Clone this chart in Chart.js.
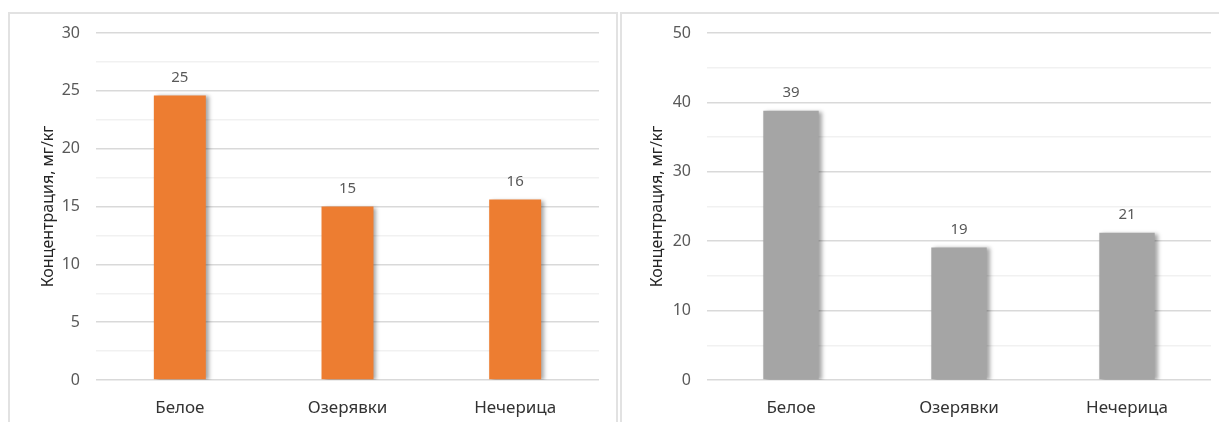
<!DOCTYPE html>
<html>
<head>
<meta charset="utf-8">
<script src="https://cdn.jsdelivr.net/npm/chart.js@4.4.1/dist/chart.umd.min.js"></script>
<style>
  html, body { margin: 0; padding: 0; background: #fff; overflow: hidden; }
  body { width: 1219px; height: 422px; position: relative; }
  .panel { position: absolute; top: 12px; height: 420px; border: 2px solid #e2e2e2; box-sizing: border-box; background: #fff; }
  #boxA { left: 8px; width: 610px; }
  #boxB { left: 620px; width: 610px; }
  .panel canvas { position: absolute; left: 0; top: 0; }
</style>
</head>
<body>
<div class="panel" id="boxA"><canvas id="chartA" width="606" height="416"></canvas></div>
<div class="panel" id="boxB"><canvas id="chartB" width="606" height="416"></canvas></div>
<script>
var sites = ['Белое', 'Озерявки', 'Нечерица'];
var concA = [24.6, 15.0, 15.6];
var concB = [38.8, 19.1, 21.2];
var axisTitle = 'Концентрация, мг/кг';
var FONT = "'Noto Sans', 'Liberation Sans', sans-serif";

// soft shadow behind the bars + rounded value labels on top
var barDecor = {
	id : 'barDecor',
	beforeDatasetsDraw : function(chart) {
		var ctx = chart.ctx;
		ctx.save();
		ctx.shadowColor = 'rgba(0,0,0,0.35)';
		ctx.shadowBlur = 4;
		ctx.shadowOffsetX = 3;
		ctx.shadowOffsetY = 1;
	},
	afterDatasetsDraw : function(chart) {
		var ctx = chart.ctx;
		ctx.restore();
		ctx.save();
		ctx.font = '15px ' + FONT;
		ctx.fillStyle = '#595959';
		ctx.textAlign = 'center';
		ctx.textBaseline = 'middle';
		var meta = chart.getDatasetMeta(0);
		var data = chart.data.datasets[0].data;
		meta.data.forEach(function(bar, i) {
			ctx.fillText(Math.round(data[i]), bar.x, bar.y - 18);
		});
		ctx.restore();
	}
};

function makeConfig(values, color, maxY, minorStep, barPct, tickWidth, titlePad) {
	return {
		type    : 'bar',
		data    : {
			labels   : sites,
			datasets : [
				{
					data            : values,
					backgroundColor : color,
					borderWidth     : 0,
					barPercentage   : barPct,
					categoryPercentage : 1
				}
			]
		},
		options : {
			responsive : false,
			animation  : false,
			layout     : { padding : { top : 19, right : 17, left : 0, bottom : 0 } },
			plugins    : {
				legend  : { display : false },
				tooltip : { enabled : false }
			},
			scales     : {
				x : {
					grid   : { display : false },
					border : { display : false },
					ticks  : { color : '#333333', font : { family : FONT, size : 17 }, padding : 10 },
					afterFit : function(scale) { scale.height = 50; }
				},
				y : {
					min    : 0,
					max    : maxY,
					border : { display : false },
					grid   : {
						drawTicks  : true,
						tickLength : 12,
						tickColor  : 'rgba(0,0,0,0)',
						color      : function(c) {
							return c.tick && c.tick.value % (minorStep * 2) === 0 ? '#d9d9d9' : '#f1f1f1';
						},
						lineWidth  : 1.5
					},
					ticks  : {
						stepSize : minorStep,
						color    : '#595959',
						padding  : 4,
						font     : { family : FONT, size : 16 },
						callback : function(v) { return v % (minorStep * 2) === 0 ? v : ''; }
					},
					title  : {
						display : true,
						text    : axisTitle,
						color   : '#262626',
						font    : { family : FONT, size : 16 },
						padding : { top : titlePad, bottom : 0 }
					},
					afterFit : function(scale) { scale.width = tickWidth; }
				}
			}
		},
		plugins : [barDecor]
	};
}

window.onload = function() {
	new Chart(document.getElementById('chartA'), makeConfig(concA, '#ED7D31', 30, 2.5, 0.31, 86, 29));
	new Chart(document.getElementById('chartB'), makeConfig(concB, '#A5A5A5', 50, 5, 0.33, 85, 26));
};
</script>
</body>
</html>
